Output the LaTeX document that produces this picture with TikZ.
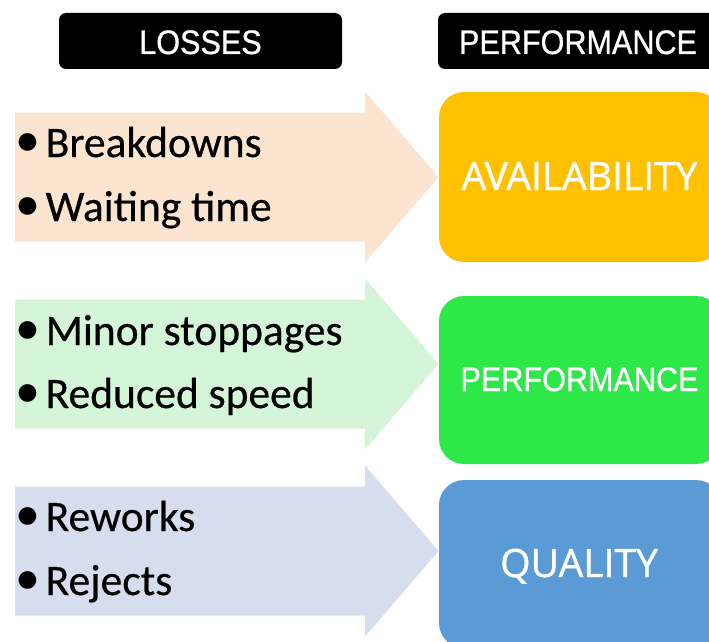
\documentclass[tikz,border=0pt]{standalone}
\usepackage{fontspec}
\newfontfamily\bodyfont[FakeBold=0.5]{Carlito}
\newfontfamily\bulfont{Carlito}
\newfontfamily\hdfont[FakeStretch=0.9,FakeBold=0.8]{Liberation Sans}
\newfontfamily\boxfont[FakeBold=1]{Open Sans}
\definecolor{peach}{HTML}{FBE5D0}
\definecolor{mint}{HTML}{D5F5D8}
\definecolor{lav}{HTML}{D6DDEE}
\definecolor{kyellow}{HTML}{FFC000}
\definecolor{kgreen}{HTML}{2EE84A}
\definecolor{kblue}{HTML}{5B9BD5}
\begin{document}
\begin{tikzpicture}[x=1pt,y=-1pt,
  hdrbox/.style={fill=black, rounded corners=7pt, inner sep=0pt, minimum height=56pt},
  hdrtext/.style={text=white, inner sep=0pt, font=\hdfont\fontsize{34}{40}\selectfont},
  kpibox/.style={rounded corners=25pt, inner sep=0pt, minimum width=282pt},
  kpitext/.style={text=white, inner sep=0pt, font=\boxfont\fontsize{39}{46}\selectfont},
  perftext/.style={text=white, inner sep=0pt, font=\hdfont\fontsize{34}{40}\selectfont},
  bul/.style={inner sep=0pt, anchor=base, font=\bulfont\fontsize{50}{56}\selectfont},
  itemtext/.style={inner sep=0pt, anchor=base west, font=\bodyfont\fontsize{43.5}{50}\selectfont}]
\useasboundingbox (0,0) rectangle (709,642);
\clip (0,0) rectangle (709,642);

% header boxes
\node[hdrbox, minimum width=283pt] (hl) at (200.5,41) {};
\node[hdrtext, anchor=base] (hlt) at (200.5,54) {LOSSES};
\node[hdrbox, minimum width=282pt] (hp) at (579,41) {};
\node[hdrtext, anchor=base] (hpt) at (578,54) {PERFORMANCE};

% block arrows
\foreach \c/\col in {177/peach, 364/mint, 551/lav}{
  \fill[\col] (15,\c-64.5) -- (365,\c-64.5) -- (365,\c-85.5) -- (438.5,\c)
     -- (365,\c+85.5) -- (365,\c+64.5) -- (15,\c+64.5) -- cycle;
}

% result boxes
\node[kpibox, fill=kyellow, minimum height=170pt] (avail) at (580,177) {};
\node[kpitext, anchor=base] (availt) at (579.5,190) {AVAILABILITY};
\node[kpibox, fill=kgreen, minimum height=168pt] (perf) at (580,380) {};
\node[perftext, anchor=base] (perft) at (579.5,391) {PERFORMANCE};
\node[kpibox, fill=kblue, minimum height=168pt] (qual) at (580,564) {};
\node[kpitext, anchor=base] (qualt) at (579,577) {QUALITY};

% bullet lists
\node[bul] (b1) at (28,156) {•};
\node[itemtext] (t1) at (45.5,157) {Breakdowns};
\node[bul] (b2) at (28,220) {•};
\node[itemtext] (t2) at (45.5,221) {Waiting time};
\node[bul] (b3) at (28,344) {•};
\node[itemtext] (t3) at (45.5,345) {Minor stoppages};
\node[bul] (b4) at (28,407) {•};
\node[itemtext] (t4) at (45.5,408) {Reduced speed};
\node[bul] (b5) at (28,530) {•};
\node[itemtext] (t5) at (45.5,531) {Reworks};
\node[bul] (b6) at (28,594) {•};
\node[itemtext] (t6) at (45.5,595) {Rejects};
\end{tikzpicture}
\end{document}
